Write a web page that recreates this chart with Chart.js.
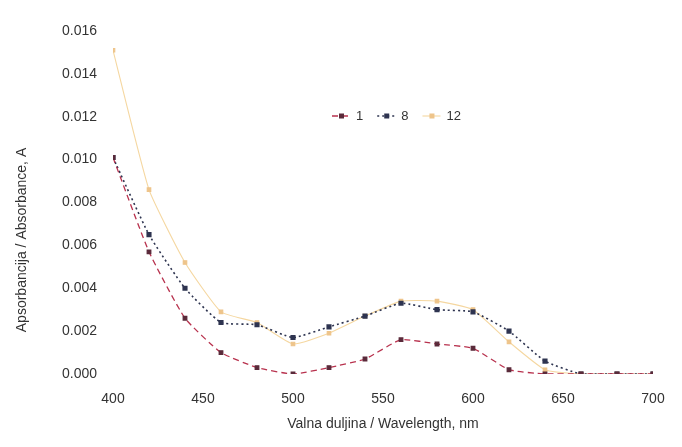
<!DOCTYPE html>
<html>
<head>
<meta charset="utf-8">
<script src="https://cdn.jsdelivr.net/npm/chart.js@4/dist/chart.umd.min.js"></script>
<style>
  html, body { margin: 0; padding: 0; background: #fff; }
  #chart { display: block; }
</style>
</head>
<body>
<canvas id="chart" width="682" height="447"></canvas>
<script>
// Wavelengths (nm)
const wavelengths = [400, 420, 440, 460, 480, 500, 520, 540, 560, 580, 600, 620, 640, 660, 680, 700];

// Series labels
const seriesLabels = ['1', '8', '12'];

// Absorbance values
const series1 = [0.0101, 0.0057, 0.0026, 0.0010, 0.0003, 0.0000, 0.0003, 0.0007, 0.0016, 0.0014, 0.0012, 0.0002, 0.0000, 0.0000, 0.0000, 0.0000];
const series8 = [0.0101, 0.0065, 0.0040, 0.0024, 0.0023, 0.0017, 0.0022, 0.0027, 0.0033, 0.0030, 0.0029, 0.0020, 0.0006, 0.0000, 0.0000, 0.0000];
const series12 = [0.0151, 0.0086, 0.0052, 0.0029, 0.0024, 0.0014, 0.0019, 0.0027, 0.0034, 0.0034, 0.0030, 0.0015, 0.0002, 0.0000, 0.0000, 0.0000];

// Axis ticks
const xTicks = [400, 450, 500, 550, 600, 650, 700];
const yTicks = [0, 0.002, 0.004, 0.006, 0.008, 0.010, 0.012, 0.014, 0.016];

const xTitle = 'Valna duljina / Wavelength, nm';
const yTitle = 'Apsorbancija / Absorbance, A';

const FONT = '"Liberation Sans", Arial, sans-serif';

function toPoints(values) {
    return wavelengths.map((w, i) => ({ x: w, y: values[i] }));
}

const styles = [
    { color: '#b8324e', point: '#5a2a3a', dash: [6, 4], width: 1.3 },
    { color: '#2e3450', point: '#2e3450', dash: [2, 3], width: 1.6 },
    { color: '#f5d7a0', point: '#eec48a', dash: [], width: 1.1 }
];

const datasets = [series1, series8, series12].map((vals, i) => ({
    label: seriesLabels[i],
    data: toPoints(vals),
    borderColor: styles[i].color,
    backgroundColor: styles[i].point,
    pointBorderColor: styles[i].point,
    borderDash: styles[i].dash,
    borderWidth: styles[i].width,
    pointRadius: 2.5,
    pointStyle: 'rect',
    tension: 0.15
}));

// Inline legend + shifted y-axis title
const annotations = {
    id: 'annotations',
    afterDraw(chart) {
        const ctx = chart.ctx;
        ctx.save();

        // legend inside plot
        ctx.font = '13px ' + FONT;
        ctx.textBaseline = 'middle';
        let x = 332;
        const y = 116;
        chart.data.datasets.forEach(ds => {
            ctx.strokeStyle = ds.borderColor;
            ctx.lineWidth = ds.borderWidth;
            ctx.setLineDash(ds.borderDash);
            ctx.beginPath();
            ctx.moveTo(x, y);
            ctx.lineTo(x + 18, y);
            ctx.stroke();
            ctx.setLineDash([]);
            ctx.fillStyle = ds.backgroundColor;
            ctx.fillRect(x + 7, y - 2.5, 5, 5);
            ctx.fillStyle = '#333';
            ctx.textAlign = 'left';
            ctx.fillText(ds.label, x + 24, y);
            x += 24 + ctx.measureText(ds.label).width + 14;
        });

        // y axis title
        ctx.translate(22, 240);
        ctx.rotate(-Math.PI / 2);
        ctx.font = '14px ' + FONT;
        ctx.textAlign = 'center';
        ctx.fillStyle = '#333';
        ctx.fillText(yTitle, 0, 0);
        ctx.restore();
    }
};

new Chart(document.getElementById('chart'), {
    type: 'line',
    data: { datasets },
    options: {
        responsive: false,
        animation: false,
        layout: { padding: { top: 31, right: 29, left: 0, bottom: 0 } },
        plugins: {
            legend: { display: false },
            tooltip: { enabled: false }
        },
        scales: {
            x: {
                type: 'linear',
                min: 400,
                max: 700,
                afterFit: s => { s.height = 73; },
                afterBuildTicks: s => { s.ticks = xTicks.map(v => ({ value: v })); },
                grid: { display: false, drawTicks: false },
                border: { display: false },
                ticks: {
                    padding: 17,
                    color: '#333',
                    font: { family: FONT, size: 14 }
                },
                title: {
                    display: true,
                    text: xTitle,
                    color: '#333',
                    font: { family: FONT, size: 14 },
                    padding: { top: 0, bottom: 14 }
                }
            },
            y: {
                min: 0,
                max: 0.016,
                afterFit: s => { s.width = 113; },
                afterBuildTicks: s => { s.ticks = yTicks.map(v => ({ value: v })); },
                grid: { display: false, drawTicks: false },
                border: { display: false },
                ticks: {
                    padding: 16,
                    color: '#333',
                    font: { family: FONT, size: 14 },
                    callback: v => v.toFixed(3)
                }
            }
        }
    },
    plugins: [annotations]
});
</script>
</body>
</html>
